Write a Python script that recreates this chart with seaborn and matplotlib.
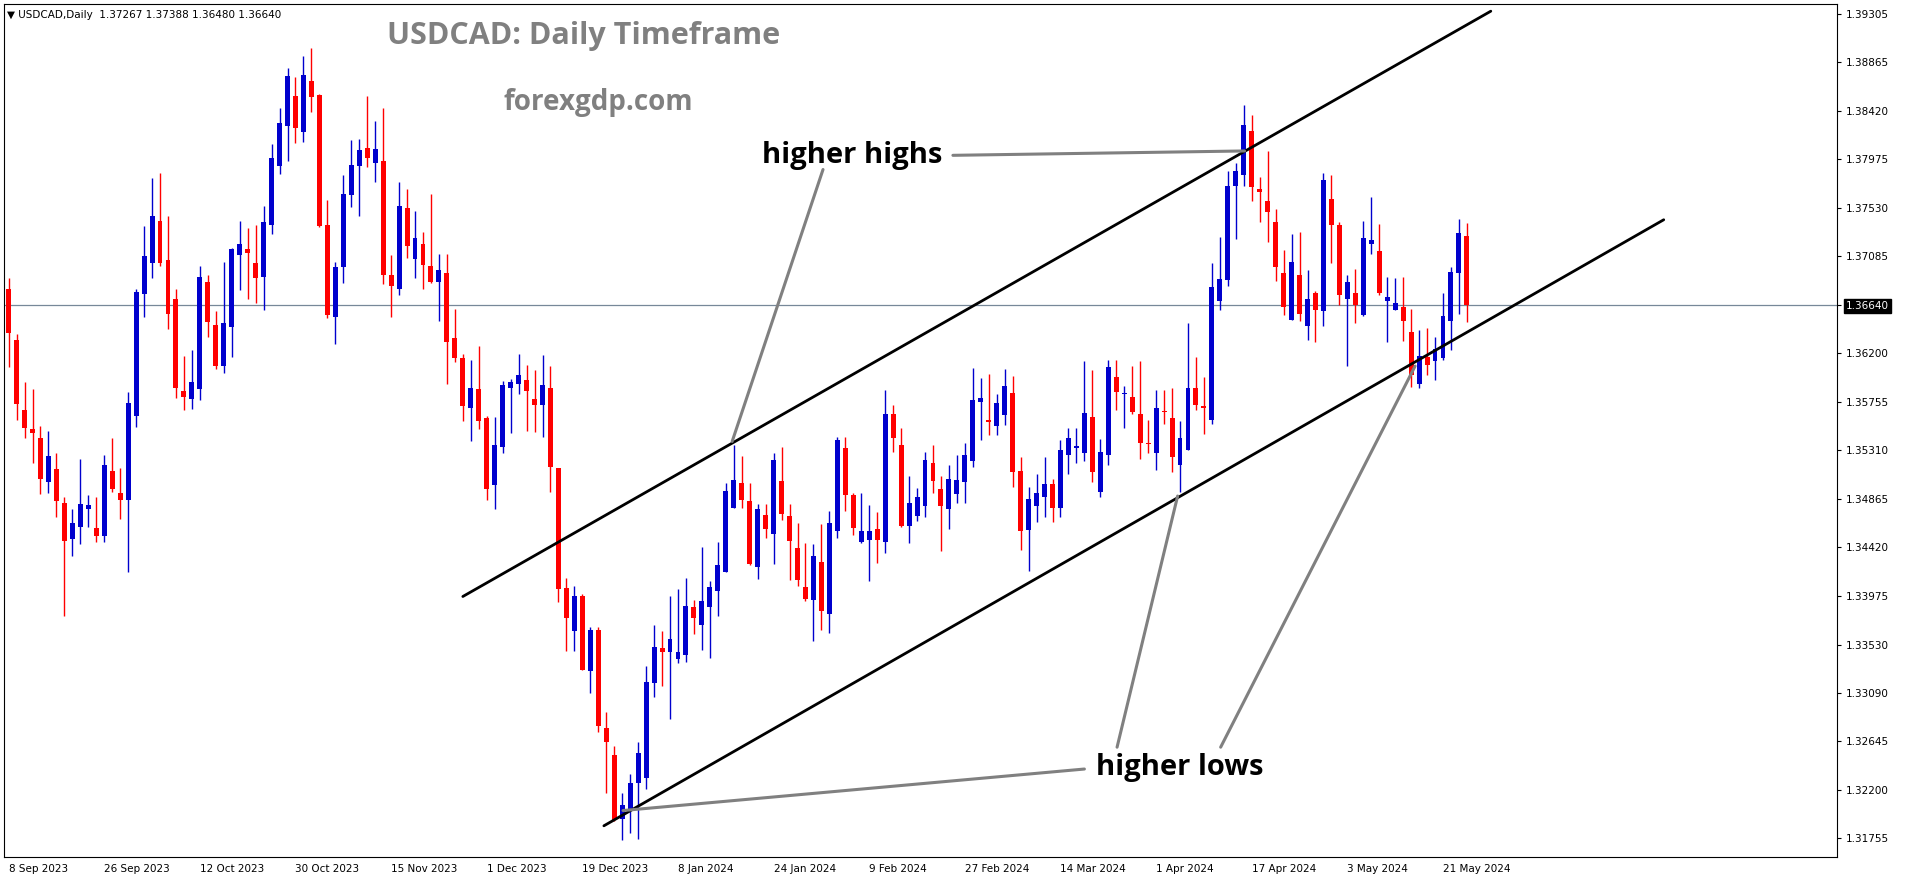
import numpy as np
import pandas as pd
import matplotlib
matplotlib.use("Agg")
import matplotlib.pyplot as plt
import seaborn as sns

# --- data (USDCAD daily, 8 Sep 2023 .. 24 May 2024) ---
opens = [
    1.3679, 1.3632, 1.3568, 1.3550, 1.3542, 1.3502, 1.3514, 1.3483, 1.3450, 1.3461,
    1.3477, 1.3460, 1.3452, 1.3512, 1.3492, 1.3485, 1.3562, 1.3674, 1.3702, 1.3741,
    1.3705, 1.3669, 1.3585, 1.3578, 1.3587, 1.3685, 1.3646, 1.3608, 1.3644, 1.3710,
    1.3715, 1.3702, 1.3690, 1.3737, 1.3791, 1.3828, 1.3855, 1.3822, 1.3869, 1.3856,
    1.3737, 1.3653, 1.3699, 1.3765, 1.3791, 1.3808, 1.3794, 1.3796, 1.3691, 1.3679,
    1.3753, 1.3706, 1.3720, 1.3700, 1.3685, 1.3693, 1.3634, 1.3615, 1.3570, 1.3587,
    1.3560, 1.3499, 1.3534, 1.3588, 1.3592, 1.3595, 1.3578, 1.3572, 1.3588, 1.3515,
    1.3405, 1.3365, 1.3397, 1.3329, 1.3366, 1.3277, 1.3252, 1.3193, 1.3202, 1.3226,
    1.3231, 1.3318, 1.3350, 1.3346, 1.3340, 1.3343, 1.3387, 1.3371, 1.3387, 1.3402,
    1.3419, 1.3478, 1.3501, 1.3484, 1.3424, 1.3472, 1.3454, 1.3503, 1.3471, 1.3441,
    1.3406, 1.3394, 1.3429, 1.3381, 1.3457, 1.3533, 1.3490, 1.3447, 1.3449, 1.3459,
    1.3447, 1.3564, 1.3536, 1.3462, 1.3471, 1.3480, 1.3519, 1.3495, 1.3477, 1.3491,
    1.3502, 1.3521, 1.3575, 1.3559, 1.3553, 1.3563, 1.3583, 1.3512, 1.3458, 1.3480,
    1.3488, 1.3500, 1.3478, 1.3527, 1.3533, 1.3528, 1.3561, 1.3493, 1.3527, 1.3598,
    1.3582, 1.3580, 1.3564, 1.3538, 1.3528, 1.3567, 1.3560, 1.3517, 1.3531, 1.3588,
    1.3571, 1.3559, 1.3668, 1.3687, 1.3773, 1.3783, 1.3823, 1.3770, 1.3759, 1.3740,
    1.3693, 1.3650, 1.3691, 1.3645, 1.3675, 1.3658, 1.3761, 1.3737, 1.3669, 1.3675,
    1.3655, 1.3720, 1.3713, 1.3668, 1.3659, 1.3662, 1.3639, 1.3592, 1.3616, 1.3613,
    1.3615, 1.3649, 1.3693, 1.37267,
]
highs = [
    1.3689, 1.3637, 1.3593, 1.3587, 1.3553, 1.3549, 1.3528, 1.3488, 1.3477, 1.3523,
    1.3490, 1.3488, 1.3527, 1.3542, 1.3515, 1.3584, 1.3679, 1.3736, 1.3780, 1.3785,
    1.3745, 1.3679, 1.3617, 1.3623, 1.3700, 1.3691, 1.3658, 1.3703, 1.3716, 1.3741,
    1.3734, 1.3737, 1.3755, 1.3811, 1.3844, 1.3881, 1.3873, 1.3892, 1.3899, 1.3857,
    1.3760, 1.3703, 1.3783, 1.3815, 1.3816, 1.3855, 1.3832, 1.3844, 1.3710, 1.3777,
    1.3770, 1.3750, 1.3731, 1.3766, 1.3711, 1.3711, 1.3660, 1.3619, 1.3614, 1.3626,
    1.3562, 1.3561, 1.3594, 1.3596, 1.3619, 1.3609, 1.3604, 1.3618, 1.3608, 1.3515,
    1.3414, 1.3407, 1.3399, 1.3369, 1.3369, 1.3291, 1.3260, 1.3217, 1.3234, 1.3264,
    1.3333, 1.3371, 1.3365, 1.3397, 1.3404, 1.3414, 1.3394, 1.3442, 1.3411, 1.3447,
    1.3501, 1.3536, 1.3526, 1.3501, 1.3482, 1.3482, 1.3528, 1.3534, 1.3482, 1.3464,
    1.3446, 1.3445, 1.3463, 1.3475, 1.3543, 1.3543, 1.3492, 1.3492, 1.3481, 1.3474,
    1.3586, 1.3572, 1.3551, 1.3507, 1.3496, 1.3529, 1.3536, 1.3507, 1.3517, 1.3527,
    1.3538, 1.3606, 1.3597, 1.3601, 1.3582, 1.3605, 1.3599, 1.3525, 1.3497, 1.3509,
    1.3525, 1.3505, 1.3540, 1.3551, 1.3551, 1.3613, 1.3604, 1.3541, 1.3614, 1.3614,
    1.3590, 1.3608, 1.3613, 1.3559, 1.3586, 1.3586, 1.3588, 1.3558, 1.3647, 1.3616,
    1.3598, 1.3702, 1.3726, 1.3787, 1.3794, 1.3847, 1.3838, 1.3781, 1.3805, 1.3752,
    1.3714, 1.3729, 1.3731, 1.3696, 1.3677, 1.3785, 1.3783, 1.3740, 1.3691, 1.3697,
    1.3741, 1.3763, 1.3738, 1.3690, 1.3689, 1.3690, 1.3660, 1.3641, 1.3643, 1.3635,
    1.3675, 1.3699, 1.3743, 1.37388,
]
lows = [
    1.3607, 1.3559, 1.3542, 1.3519, 1.3491, 1.3492, 1.3470, 1.3379, 1.3434, 1.3445,
    1.3461, 1.3447, 1.3447, 1.3493, 1.3468, 1.3419, 1.3552, 1.3653, 1.3689, 1.3700,
    1.3642, 1.3579, 1.3568, 1.3569, 1.3577, 1.3635, 1.3605, 1.3602, 1.3616, 1.3678,
    1.3669, 1.3666, 1.3659, 1.3729, 1.3784, 1.3796, 1.3812, 1.3813, 1.3841, 1.3735,
    1.3652, 1.3628, 1.3684, 1.3754, 1.3745, 1.3790, 1.3777, 1.3683, 1.3653, 1.3673,
    1.3707, 1.3689, 1.3679, 1.3684, 1.3649, 1.3592, 1.3612, 1.3558, 1.3539, 1.3550,
    1.3485, 1.3477, 1.3528, 1.3547, 1.3582, 1.3549, 1.3548, 1.3543, 1.3493, 1.3392,
    1.3347, 1.3347, 1.3330, 1.3309, 1.3273, 1.3217, 1.3191, 1.3174, 1.3180, 1.3175,
    1.3221, 1.3305, 1.3315, 1.3285, 1.3336, 1.3337, 1.3363, 1.3348, 1.3341, 1.3379,
    1.3419, 1.3478, 1.3478, 1.3426, 1.3413, 1.3451, 1.3427, 1.3467, 1.3412, 1.3407,
    1.3393, 1.3356, 1.3366, 1.3364, 1.3451, 1.3475, 1.3453, 1.3446, 1.3411, 1.3428,
    1.3437, 1.3529, 1.3461, 1.3446, 1.3466, 1.3470, 1.3492, 1.3439, 1.3459, 1.3483,
    1.3483, 1.3516, 1.3540, 1.3545, 1.3545, 1.3554, 1.3497, 1.3440, 1.3420, 1.3465,
    1.3470, 1.3465, 1.3470, 1.3509, 1.3519, 1.3521, 1.3502, 1.3488, 1.3517, 1.3568,
    1.3551, 1.3564, 1.3523, 1.3528, 1.3513, 1.3555, 1.3511, 1.3493, 1.3531, 1.3568,
    1.3546, 1.3555, 1.3659, 1.3681, 1.3724, 1.3773, 1.3759, 1.3740, 1.3722, 1.3686,
    1.3655, 1.3650, 1.3649, 1.3632, 1.3630, 1.3645, 1.3702, 1.3664, 1.3608, 1.3647,
    1.3654, 1.3711, 1.3673, 1.3630, 1.3659, 1.3631, 1.3589, 1.3588, 1.3600, 1.3595,
    1.3614, 1.3623, 1.3656, 1.36480,
]
closes = [
    1.3638, 1.3573, 1.3551, 1.3547, 1.3505, 1.3526, 1.3484, 1.3448, 1.3464, 1.3482,
    1.3481, 1.3452, 1.3517, 1.3495, 1.3485, 1.3574, 1.3676, 1.3709, 1.3745, 1.3702,
    1.3656, 1.3588, 1.3580, 1.3593, 1.3690, 1.3648, 1.3608, 1.3647, 1.3715, 1.3720,
    1.3712, 1.3689, 1.3740, 1.3799, 1.3831, 1.3874, 1.3826, 1.3875, 1.3854, 1.3736,
    1.3655, 1.3699, 1.3766, 1.3792, 1.3806, 1.3799, 1.3807, 1.3691, 1.3681, 1.3755,
    1.3718, 1.3725, 1.3701, 1.3685, 1.3696, 1.3630, 1.3615, 1.3571, 1.3588, 1.3558,
    1.3495, 1.3536, 1.3591, 1.3593, 1.3600, 1.3585, 1.3572, 1.3591, 1.3516, 1.3404,
    1.3377, 1.3397, 1.3330, 1.3366, 1.3278, 1.3264, 1.3192, 1.3206, 1.3226, 1.3254,
    1.3319, 1.3351, 1.3346, 1.3358, 1.3346, 1.3388, 1.3377, 1.3393, 1.3406, 1.3426,
    1.3494, 1.3504, 1.3485, 1.3427, 1.3477, 1.3459, 1.3522, 1.3473, 1.3448, 1.3412,
    1.3395, 1.3434, 1.3384, 1.3464, 1.3540, 1.3490, 1.3460, 1.3457, 1.3457, 1.3449,
    1.3564, 1.3542, 1.3462, 1.3483, 1.3488, 1.3522, 1.3503, 1.3480, 1.3505, 1.3504,
    1.3527, 1.3577, 1.3579, 1.3557, 1.3574, 1.3590, 1.3511, 1.3457, 1.3486, 1.3492,
    1.3500, 1.3478, 1.3531, 1.3542, 1.3535, 1.3565, 1.3511, 1.3529, 1.3607, 1.3584,
    1.3583, 1.3566, 1.3538, 1.3537, 1.3570, 1.3566, 1.3525, 1.3542, 1.3588, 1.3572,
    1.3570, 1.3680, 1.3688, 1.3773, 1.3787, 1.3829, 1.3772, 1.3767, 1.3749, 1.3699,
    1.3662, 1.3703, 1.3656, 1.3669, 1.3659, 1.3778, 1.3737, 1.3673, 1.3685, 1.3664,
    1.3725, 1.3723, 1.3675, 1.3671, 1.3666, 1.3649, 1.3600, 1.3617, 1.3609, 1.3624,
    1.3654, 1.3694, 1.3730, 1.36640,
]

date_ticks = [0, 12, 24, 36, 48, 60, 72, 84, 96, 108, 120, 132, 144, 156, 168, 180]
date_labels = ["8 Sep 2023", "26 Sep 2023", "12 Oct 2023", "30 Oct 2023", "15 Nov 2023",
               "1 Dec 2023", "19 Dec 2023", "8 Jan 2024", "24 Jan 2024", "9 Feb 2024",
               "27 Feb 2024", "14 Mar 2024", "1 Apr 2024", "17 Apr 2024", "3 May 2024",
               "21 May 2024"]
price_ticks = [1.39305, 1.38865, 1.38420, 1.37975, 1.37530, 1.37085, 1.36640, 1.36200,
               1.35755, 1.35310, 1.34865, 1.34420, 1.33975, 1.33530, 1.33090, 1.32645,
               1.32200, 1.31755]
last_price = 1.36640

# channel lines (bar index, price)
upper_channel = pd.DataFrame({"x": [57.0, 186.0], "y": [1.3397, 1.3933]})
lower_channel = pd.DataFrame({"x": [74.7, 207.7], "y": [1.3187, 1.3742]})

# annotation pointer lines
hh_pointers = [([102.2, 90.8], [1.3788, 1.3539]), ([118.5, 155.1], [1.3801, 1.3805])]
hl_pointers = [([135.0, 77.1], [1.3239, 1.3201]), ([139.1, 146.7], [1.3259, 1.3489]),
               ([152.1, 176.5], [1.3259, 1.3608])]

sns.set_theme(style="white")
plt.rcParams['font.family'] = ['DejaVu Sans']

fig = plt.figure(figsize=(19.16, 8.84), dpi=100)
ax = fig.add_axes([0.002, 0.03, 0.957, 0.966])

df = pd.DataFrame({"o": opens, "h": highs, "l": lows, "c": closes})
df["i"] = np.arange(len(df))
df["up"] = df["c"] >= df["o"]
blue, red = "#0000CD", "#FF0000"
colors = np.where(df["up"], blue, red)

# wicks
ax.vlines(df["i"], df["l"], df["h"], colors=colors, linewidth=1.0, zorder=2)
# bodies
bottoms = np.minimum(df["o"], df["c"])
heights = np.maximum((df["c"] - df["o"]).abs(), 0.00003)
ax.bar(df["i"], heights, bottom=bottoms, width=0.62, color=colors, linewidth=0, zorder=3)

# current price line
ax.axhline(last_price, color="#778899", linewidth=0.9, zorder=1)

# channel
sns.lineplot(data=upper_channel, x="x", y="y", ax=ax, color="black", linewidth=2.0, zorder=4)
sns.lineplot(data=lower_channel, x="x", y="y", ax=ax, color="black", linewidth=2.0, zorder=4)

for xs, ys in hh_pointers + hl_pointers:
    ax.plot(xs, ys, color="#808080", linewidth=2.2, zorder=4)

ax.text(94.6, 1.3801, "higher highs", fontsize=21, fontweight="bold", color="black",
        va="center", ha="left", family=["Open Sans", "DejaVu Sans"])
ax.text(136.5, 1.3240, "higher lows", fontsize=21, fontweight="bold", color="black",
        va="center", ha="left", family=["Open Sans", "DejaVu Sans"])
ax.text(0.316, 0.962, "USDCAD: Daily Timeframe", transform=ax.transAxes, fontsize=22,
        fontweight="bold", color="#808080", va="center", ha="center",
        family=["Open Sans", "DejaVu Sans"])
ax.text(0.324, 0.884, "forexgdp.com", transform=ax.transAxes, fontsize=20,
        fontweight="bold", color="#808080", va="center", ha="center",
        family=["Open Sans", "DejaVu Sans"])
ax.text(0.002, 0.993, "\u25bc USDCAD,Daily  1.37267 1.37388 1.36480 1.36640",
        transform=ax.transAxes, fontsize=7.5, color="black", va="top", ha="left")

ax.set_xlim(-0.6, 229.5)
ax.set_ylim(1.3158, 1.3940)
ax.yaxis.tick_right()
ax.set_yticks(price_ticks)
ax.set_yticklabels([f"{p:.5f}" for p in price_ticks], fontsize=7.5)
ax.set_xticks(date_ticks)
ax.set_xticklabels(date_labels, fontsize=7.5, ha="left")
ax.tick_params(axis="both", length=3, width=0.8, color="black", direction="out",
               labelcolor="black", pad=2)
ax.tick_params(axis="y", pad=3)
ax.set_xlabel("")
ax.set_ylabel("")
for s in ax.spines.values():
    s.set_color("black")
    s.set_linewidth(0.8)
ax.grid(False)

# highlight the last price label
for lbl in ax.get_yticklabels():
    if lbl.get_text() == f"{last_price:.5f}":
        lbl.set_color("white")
        lbl.set_bbox(dict(facecolor="black", edgecolor="black", pad=1.5))

fig.savefig("out.png", dpi=100, facecolor="white")
